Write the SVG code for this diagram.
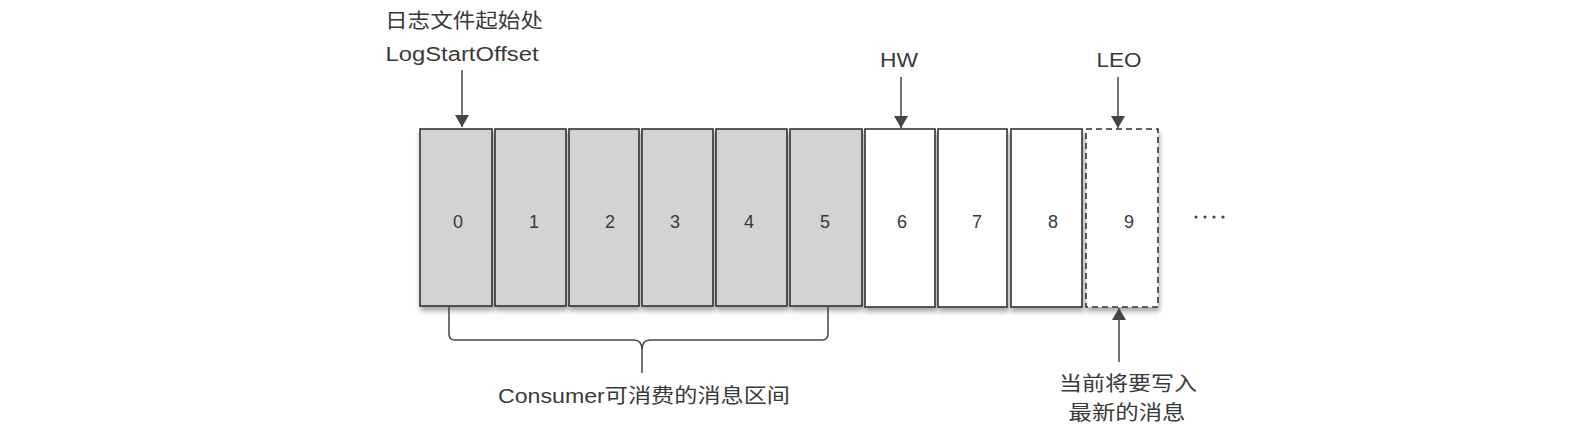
<svg xmlns="http://www.w3.org/2000/svg" width="1570" height="442" viewBox="0 0 1570 442">
<style>
  .t { font-family: "Liberation Sans", "Noto Sans CJK SC", sans-serif; fill: #3a3a3a; text-anchor: middle; }
  .lbl { font-size: 20px; }
  .num { font-size: 18px; }
  .box { stroke: #333; stroke-width: 1.6; }
  .used { fill: #d3d3d3; }
  .free { fill: #ffffff; }
  .next { fill: #ffffff; stroke-dasharray: 6 4; }
  .conn { stroke: #444; stroke-width: 1.5; fill: none; }
</style>
<defs>
  <marker id="ah" viewBox="0 0 12 14" refX="12" refY="7" markerWidth="12" markerHeight="14" markerUnits="userSpaceOnUse" orient="auto">
    <path d="M0,0 L12,7 L0,14 Z" fill="#444"/>
  </marker>
  <filter id="sh" x="-10%" y="-10%" width="130%" height="130%">
    <feGaussianBlur in="SourceAlpha" stdDeviation="2.5"/>
    <feOffset dx="1" dy="4" result="b"/>
    <feComponentTransfer><feFuncA type="linear" slope="0.35"/></feComponentTransfer>
    <feMerge><feMergeNode/><feMergeNode in="SourceGraphic"/></feMerge>
  </filter>
</defs>
<rect width="1570" height="442" fill="#ffffff"/>

<g id="node-0"><rect class="box used" filter="url(#sh)" x="420" y="129" width="72" height="177"/><text class="t num" x="458" y="228">0</text></g>
<g id="node-1"><rect class="box used" filter="url(#sh)" x="495" y="129" width="71" height="177"/><text class="t num" x="534" y="228">1</text></g>
<g id="node-2"><rect class="box used" filter="url(#sh)" x="569" y="129" width="70" height="177"/><text class="t num" x="610" y="228">2</text></g>
<g id="node-3"><rect class="box used" filter="url(#sh)" x="642" y="129" width="71" height="177"/><text class="t num" x="675" y="228">3</text></g>
<g id="node-4"><rect class="box used" filter="url(#sh)" x="716" y="129" width="71" height="177"/><text class="t num" x="749" y="228">4</text></g>
<g id="node-5"><rect class="box used" filter="url(#sh)" x="790" y="129" width="72" height="177"/><text class="t num" x="825" y="228">5</text></g>
<g id="node-6"><rect class="box free" filter="url(#sh)" x="865" y="129" width="70" height="178"/><text class="t num" x="902" y="228">6</text></g>
<g id="node-7"><rect class="box free" filter="url(#sh)" x="938" y="129" width="69" height="178"/><text class="t num" x="977" y="228">7</text></g>
<g id="node-8"><rect class="box free" filter="url(#sh)" x="1011" y="129" width="71" height="178"/><text class="t num" x="1053" y="228">8</text></g>
<g id="node-9"><rect class="box next" filter="url(#sh)" x="1086" y="129" width="72" height="178"/><text class="t num" x="1129" y="228">9</text></g>

<g id="ellipsis" fill="#444">
  <circle cx="1196" cy="217" r="1.6"/>
  <circle cx="1205" cy="217" r="1.6"/>
  <circle cx="1214" cy="217" r="1.6"/>
  <circle cx="1223" cy="217" r="1.6"/>
</g>

<g id="label-start">
  <text class="t lbl" x="464" y="28" textLength="158" lengthAdjust="spacingAndGlyphs">日志文件起始处</text>
  <text class="t lbl" x="462" y="61" textLength="153" lengthAdjust="spacingAndGlyphs">LogStartOffset</text>
</g>
<g id="label-hw"><text class="t lbl" x="899" y="67" textLength="38" lengthAdjust="spacingAndGlyphs">HW</text></g>
<g id="label-leo"><text class="t lbl" x="1119" y="67" textLength="45" lengthAdjust="spacingAndGlyphs">LEO</text></g>
<g id="label-consumer"><text class="t lbl" x="644" y="403" textLength="292" lengthAdjust="spacingAndGlyphs">Consumer可消费的消息区间</text></g>
<g id="label-next">
  <text class="t lbl" x="1128" y="391" textLength="138" lengthAdjust="spacingAndGlyphs">当前将要写入</text>
  <text class="t lbl" x="1127" y="420" textLength="117" lengthAdjust="spacingAndGlyphs">最新的消息</text>
</g>

<g id="connectors">
  <line class="conn" x1="462" y1="70" x2="462" y2="127" marker-end="url(#ah)"/>
  <line class="conn" x1="901" y1="77" x2="901" y2="128" marker-end="url(#ah)"/>
  <line class="conn" x1="1118" y1="77" x2="1118" y2="128" marker-end="url(#ah)"/>
  <line class="conn" x1="1119" y1="362" x2="1119" y2="308" marker-end="url(#ah)"/>
  <path class="conn" d="M449,307 L449,334 Q449,340 455,340 L634,340 Q642,340 642,350 L642,373 L642,350 Q642,340 650,340 L822,340 Q828,340 828,334 L828,307"/>
</g>
</svg>
